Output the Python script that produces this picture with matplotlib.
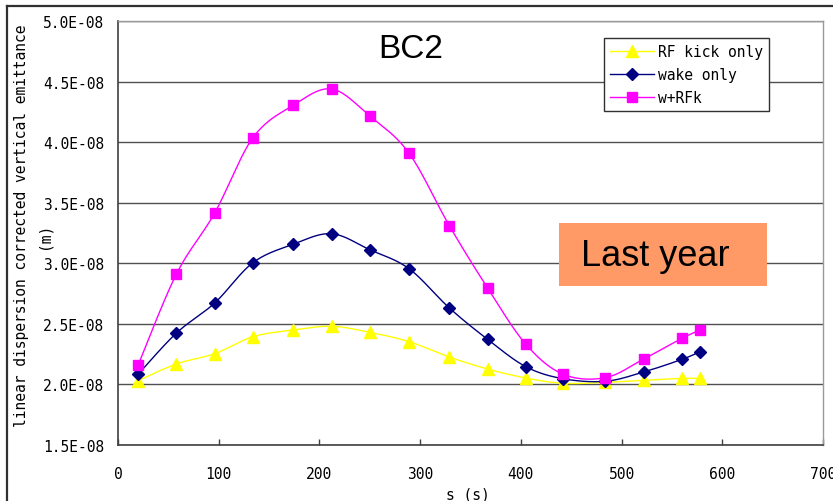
import numpy as np
import matplotlib
matplotlib.use("Agg")
import matplotlib.pyplot as plt
from matplotlib.lines import Line2D
from matplotlib.ticker import FuncFormatter, MultipleLocator

# Position along BC2 (m) and emittance values (m)
s_pos = [20, 58, 96, 134, 174, 212, 250, 289, 329, 367, 405, 442, 484, 522, 560, 578]

rf_kick_only = [2.031, 2.169, 2.254, 2.394, 2.449, 2.480, 2.430, 2.353,
                2.226, 2.127, 2.053, 2.009, 2.017, 2.034, 2.050, 2.050]
wake_only = [2.084, 2.424, 2.672, 3.005, 3.157, 3.244, 3.112, 2.955,
             2.631, 2.372, 2.146, 2.047, 2.026, 2.103, 2.207, 2.270]
w_rfk = [2.160, 2.911, 3.415, 4.037, 4.304, 4.439, 4.216, 3.908,
         3.310, 2.796, 2.331, 2.084, 2.056, 2.210, 2.381, 2.449]

series_labels = ["RF kick only", "wake only", "w+RFk"]
title_text = "BC2"
note_text = "Last year"
x_label = "s (s)"
y_label_main = "linear dispersion corrected vertical emittance"
y_label_unit = "(m)"


def smooth(x, y, n=24):
    """Smoothed line through every point (cubic Bezier, Catmull-Rom style)."""
    p = np.column_stack([x, y]).astype(float)
    p_ext = np.vstack([p[0], p, p[-1]])
    t = np.linspace(0, 1, n)[:, None]
    segs = []
    for i in range(1, len(p_ext) - 2):
        p0, p1, p2, p3 = p_ext[i - 1], p_ext[i], p_ext[i + 1], p_ext[i + 2]
        c1 = p1 + (p2 - p0) / 6.0
        c2 = p2 - (p3 - p1) / 6.0
        b = ((1 - t) ** 3) * p1 + 3 * ((1 - t) ** 2) * t * c1 \
            + 3 * (1 - t) * (t ** 2) * c2 + (t ** 3) * p2
        segs.append(b if i == 1 else b[1:])
    out = np.vstack(segs)
    return out[:, 0], out[:, 1]


W, H = 833, 502
fig = plt.figure(figsize=(W / 100, H / 100), dpi=100)
ax = fig.add_axes([118 / W, 1 - 446 / H, (823 - 118) / W, (446 - 22) / H])

mono = "DejaVu Sans Mono"
sans = "Liberation Sans"

styles = [
    dict(color="#FFFF00", marker="^", ms=8.5, mec="#FFFF00", mfc="#FFFF00"),
    dict(color="#000080", marker="D", ms=6.5, mec="#000080", mfc="#000080"),
    dict(color="#FF00FF", marker="s", ms=7.5, mec="#FF00FF", mfc="#FF00FF"),
]
all_series = [rf_kick_only, wake_only, w_rfk]

handles = []
for vals, st, lab in zip(all_series, styles, series_labels):
    yv = np.array(vals) * 1e-8
    xs, ys = smooth(np.array(s_pos, float), yv)
    ax.plot(xs, ys, color=st["color"], lw=1.0, zorder=3)
    ax.plot(s_pos, yv, ls="none", marker=st["marker"], ms=st["ms"],
            mec=st["mec"], mfc=st["mfc"], zorder=4)
    handles.append(Line2D([], [], color=st["color"], lw=1.0, marker=st["marker"],
                          ms=st["ms"], mec=st["mec"], mfc=st["mfc"], label=lab))

ax.set_xlim(0, 700)
ax.set_ylim(1.5e-8, 5.0e-8)
ax.xaxis.set_major_locator(MultipleLocator(100))
ax.yaxis.set_major_locator(MultipleLocator(0.5e-8))
ax.yaxis.set_major_formatter(FuncFormatter(lambda v, _: f"{v:.1E}"))
ax.grid(axis="y", color="#505050", lw=1.0, zorder=1)
ax.set_axisbelow(True)

for side in ("left", "bottom"):
    ax.spines[side].set_color("#404040")
    ax.spines[side].set_linewidth(1.2)
for side in ("top", "right"):
    ax.spines[side].set_color("#9a9a9a")
    ax.spines[side].set_linewidth(1.0)

ax.tick_params(axis="x", direction="in", length=4, width=1, color="#404040",
               pad=15, labelsize=10.5)
ax.tick_params(axis="y", direction="in", length=0, pad=10, labelsize=10.5)
for lbl in ax.get_xticklabels() + ax.get_yticklabels():
    lbl.set_fontfamily(mono)

# axis titles
fig.text(468 / W, 1 - 495 / H, x_label, ha="center", va="center",
         fontsize=10.5, family=mono)
fig.text(22 / W, 1 - 226 / H, y_label_main, ha="center", va="center",
         rotation=90, fontsize=10.5, family=mono)
fig.text(44 / W, 1 - 236 / H, y_label_unit, ha="center", va="center",
         rotation=90, fontsize=10.5, family=mono)

# chart title
fig.text(411 / W, 1 - 50 / H, title_text, ha="center", va="center",
         fontsize=24, family=sans)

# highlighted note
fig.patches.append(matplotlib.patches.Rectangle(
    (559 / W, 1 - 287 / H), (767 - 559) / W, (287 - 224) / H,
    transform=fig.transFigure, facecolor="#FF9966", edgecolor="none", zorder=5))
fig.text(655 / W, 1 - 257 / H, note_text, ha="center", va="center",
         fontsize=26, family=sans, zorder=6)

# legend
leg = ax.legend(handles=handles, loc="upper left",
                bbox_to_anchor=(604 / W, 1 - 39 / H), bbox_transform=fig.transFigure,
                frameon=True, fancybox=False, framealpha=1.0, edgecolor="#303030",
                prop={"family": mono, "size": 10.5}, handlelength=3.0,
                handletextpad=0.3, borderpad=0.4, labelspacing=0.55,
                borderaxespad=0)
leg.get_frame().set_linewidth(1.0)
leg.set_zorder(7)

# outer chart border
fig.add_artist(Line2D([7 / W, 7 / W], [0, 1 - 7 / H], transform=fig.transFigure,
                      color="#303030", lw=1.6))
fig.add_artist(Line2D([7 / W, 1], [1 - 7 / H, 1 - 7 / H], transform=fig.transFigure,
                      color="#303030", lw=1.6))

fig.savefig("out.png", dpi=100)
